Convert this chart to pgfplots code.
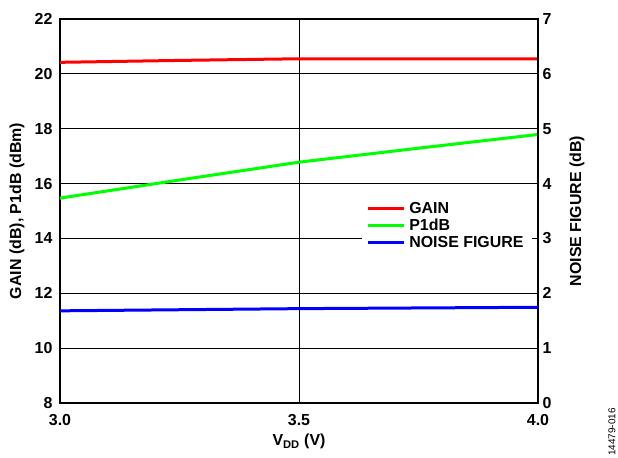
\documentclass[border=0pt]{standalone}
\usepackage{fontspec}
\setmainfont{Liberation Sans}
\usepackage{pgfplots}
\pgfplotsset{compat=1.18}

\pgfplotstableread{
vdd   gain   p1db
3.00  20.42  15.47
3.25  20.49  16.13
3.50  20.55  16.78
3.75  20.55  17.29
4.00  20.55  17.79
}\gaintable

\pgfplotstableread{
vdd   nf
3.00  1.68
3.50  1.72
4.00  1.745
}\nftable

\pgfplotsset{
  commonaxis/.style={
    scale only axis, width=478bp, height=384bp,
    at={(0,0)}, anchor=south west,
    xmin=3, xmax=4,
    font=\fontsize{16}{18}\selectfont\bfseries,
    /pgf/number format/assume math mode=true,
    tick style={draw=none},
    axis line style={line width=1.8bp},
  },
}

\begin{document}
\begin{tikzpicture}
% left axis: gain and P1dB
\begin{axis}[
  commonaxis,
  name=main,
  ymin=8, ymax=22,
  ytick={8,10,...,22},
  xtick={3,3.5,4},
  xticklabel style={/pgf/number format/fixed, /pgf/number format/fixed zerofill,
    /pgf/number format/precision=1, yshift=-8bp},
  yticklabel style={xshift=-4bp},
  ytick pos=left, xtick pos=bottom,
  grid=major,
  major grid style={black, line width=1bp},
  xlabel={V\textsubscript{DD} (V)},
  xlabel style={at={(axis description cs:0.5,-0.1)}, anchor=center},
  ylabel={GAIN (dB), P1dB (dBm)},
  ylabel style={at={(axis description cs:-0.09,0.5)}, anchor=center},
]
\addplot[red, line width=3bp] table[x=vdd, y=gain] {\gaintable};
\addplot[green, line width=3bp] table[x=vdd, y=p1db] {\gaintable};
\end{axis}

% right axis: noise figure
\begin{axis}[
  commonaxis,
  ymin=0, ymax=7,
  ytick={0,1,...,7},
  axis y line*=right,
  axis x line=none,
  yticklabel style={xshift=1bp},
  ylabel={NOISE FIGURE (dB)},
  ylabel style={at={(axis description cs:1.0816,0.5)}, anchor=center},
  legend style={
    at={(axis description cs:0.632,0.533)}, anchor=north west,
    fill=white, draw=none,
    font=\fontsize{16}{18}\selectfont\bfseries,
    row sep=0bp, inner xsep=4bp, inner ysep=2bp,
    nodes={inner ysep=2bp, inner xsep=4bp},
  },
  legend cell align=left,
  legend image code/.code={\draw[#1] (0bp,0bp) -- (36bp,0bp);},
]
\addlegendimage{red, line width=3bp}
\addlegendentry{GAIN}
\addlegendimage{green, line width=3bp}
\addlegendentry{P1dB}
\addplot[blue, line width=3bp] table[x=vdd, y=nf] {\nftable};
\addlegendentry{NOISE FIGURE}
\end{axis}

% figure number, rotated, beside the lower right corner
\node[rotate=90, anchor=center, font=\fontsize{10}{12}\selectfont]
  at ([xshift=552bp, yshift=-29bp]main.south west) {14479-016};

\pgfresetboundingbox
\path[use as bounding box] (main.south west) ++(-60bp,-55bp) rectangle ++(618bp,458bp);
\end{tikzpicture}
\end{document}
